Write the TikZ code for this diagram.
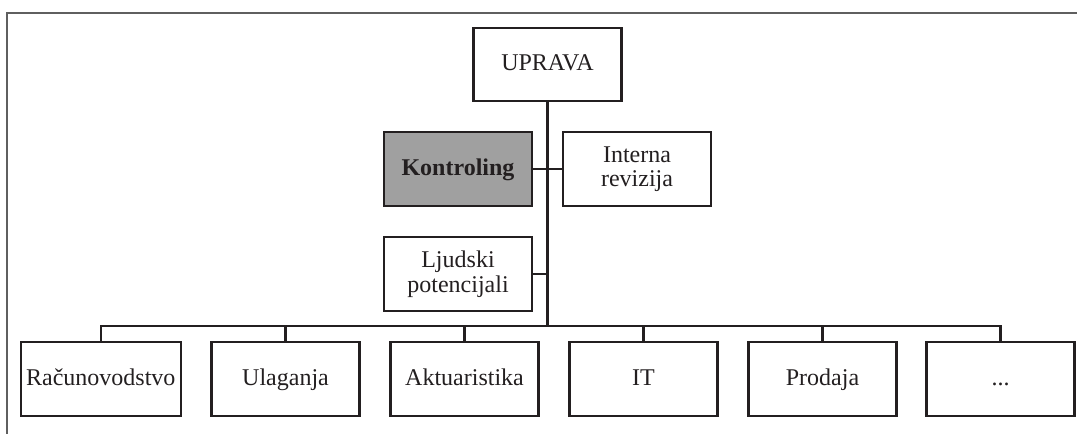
\documentclass[tikz,border=0pt]{standalone}
\usepackage{fontspec}
\setmainfont{Liberation Serif}
\definecolor{ink}{RGB}{35,31,32}
\definecolor{ctrl}{RGB}{160,160,160}
\definecolor{framec}{RGB}{95,95,95}
\begin{document}
\begin{tikzpicture}[x=1pt,y=-1pt,
  box/.style={draw=ink, line width=2.2pt, minimum width=148pt, minimum height=74pt,
    inner sep=0pt, align=center, text=ink, font=\fontsize{24}{24.5}\selectfont},
  single/.style={text height=17pt, text depth=5pt},
  link/.style={draw=ink, line width=2.2pt},
  trunk/.style={draw=ink, line width=3pt},
  border/.style={draw=framec, line width=2pt}]
\useasboundingbox (0,0) rectangle (1077,434);
\draw[border] (7.3,434) -- (7.3,13) -- (1077,13);

\node[box, single, minimum height=73pt] (upr) at (547.5,64.5) {UPRAVA};
\node[box, single, fill=ctrl, font=\fontsize{24}{24.5}\selectfont\bfseries] (ktr) at (458,169) {Kontroling};
\node[box] (irv) at (637,169) {Interna\\revizija};
\node[box] (ljp) at (458,274) {Ljudski\\potencijali};

\node[box, single, minimum width=160.3pt] (rac) at (100.8,379) {Računovodstvo};
\node[box, single] (ula) at (285.5,379) {Ulaganja};
\node[box, single] (akt) at (464.5,379) {Aktuaristika};
\node[box, single] (it)  at (643.5,379) {IT};
\node[box, single] (pro) at (822.5,379) {Prodaja};
\node[box, single] (dots) at (1000.5,379) {...};

\coordinate (bus) at (547.3,326);
\draw[trunk] (upr.south -| bus) -- (bus);
\draw[link] (ktr.east) -- (irv.west);
\draw[link] (ljp.east) -- (ljp.east -| bus);
\draw[link] (rac.north) |- (bus) -| (dots.north);
\foreach \n in {ula,akt,it,pro} \draw[link] (\n.north) -- (\n.north |- bus);
\end{tikzpicture}
\end{document}
